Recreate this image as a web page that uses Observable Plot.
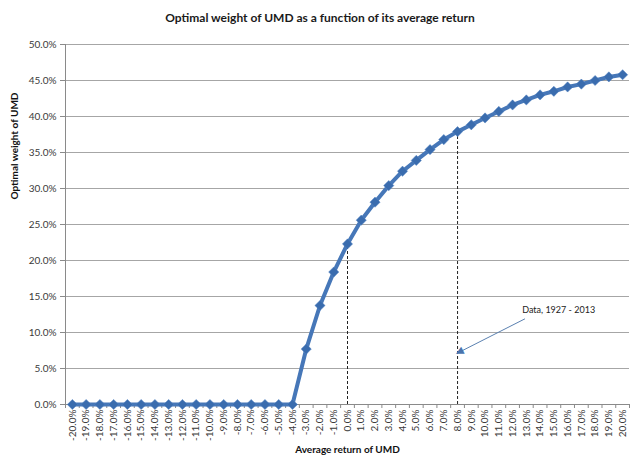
<!DOCTYPE html>
<html><head><meta charset="utf-8">
<script src="https://cdn.jsdelivr.net/npm/d3@7"></script>
<script src="https://cdn.jsdelivr.net/npm/@observablehq/plot@0.6"></script>
<style>
body{margin:0;background:#fff;font-family:Lato,"Open Sans",sans-serif;}
#title{width:640px;height:36px;line-height:36px;text-align:center;font-weight:bold;font-size:12px;color:#1a1a1a;}
</style></head><body>
<div id="title">Optimal weight of UMD as a function of its average return</div>
<div id="chart"></div>
<script>
// Average return of UMD (%), one category per point
const returns = [-20,-19,-18,-17,-16,-15,-14,-13,-12,-11,-10,-9,-8,-7,-6,-5,-4,-3,-2,-1,0,1,2,3,4,5,6,7,8,9,10,11,12,13,14,15,16,17,18,19,20];
// Optimal weight of UMD (%)
const weights = [0,0,0,0,0,0,0,0,0,0,0,0,0,0,0,0,0,7.7,13.75,18.4,22.3,25.6,28.1,30.4,32.4,33.9,35.4,36.8,37.9,38.85,39.8,40.7,41.6,42.3,43.0,43.5,44.1,44.5,45.0,45.5,45.8];
const yTicks = [0,5,10,15,20,25,30,35,40,45,50];
const markedReturns = [0, 8];
const annotationText = "Data, 1927 - 2013";
const annotationPos = {x: 12.7, y: 13.1};
const arrowFrom = {x: 12.9, y: 11.9};
const arrowTo = {x: 7.95, y: 7.1};

const data = returns.map((r, i) => ({r, w: weights[i]}));
const marked = markedReturns.map(r => ({r, w: weights[returns.indexOf(r)]}));
const boundaries = returns.map(r => r - 0.5).concat([returns[returns.length - 1] + 0.5]);
const pct = d => d.toFixed(1) + "%";

const chart = Plot.plot({
  width: 640,
  height: 431,
  marginLeft: 65,
  marginRight: 11,
  marginTop: 8,
  marginBottom: 63,
  style: {fontFamily: "Lato, 'Open Sans', sans-serif", fontSize: "10px", color: "#3a3a3a", background: "#fff"},
  x: {domain: [boundaries[0], boundaries[boundaries.length - 1]]},
  y: {domain: [0, 50]},
  marks: [
    Plot.gridY(yTicks, {stroke: "#a6a6a6", strokeOpacity: 1, strokeWidth: 1}),
    Plot.frame({anchor: "left", stroke: "#8a8a8a"}),
    Plot.ruleY([0], {stroke: "#8a8a8a"}),
    Plot.axisY({ticks: yTicks, tickFormat: pct, tickSize: 5, tickPadding: 4, label: null, stroke: "#8a8a8a", fontSize: 10}),
    Plot.axisX({ticks: returns, tickFormat: pct, tickSize: 0, tickPadding: 5, tickRotate: -90, label: null, fontSize: 10}),
    Plot.axisX({ticks: boundaries, tickFormat: () => "", tickSize: 4, label: null, stroke: "#8a8a8a"}),
    Plot.ruleX(marked, {x: "r", y1: 0, y2: "w", stroke: "#222", strokeWidth: 1, strokeDasharray: "3,2"}),
    Plot.line(data, {x: "r", y: "w", stroke: "#4677b8", strokeWidth: 4}),
    Plot.dot(data, {x: "r", y: "w", symbol: "diamond2", r: 4.6, fill: "#3a6cae", stroke: "#5585c2", strokeWidth: 0.5}),
    Plot.link([{}], {x1: arrowFrom.x, y1: arrowFrom.y, x2: arrowTo.x, y2: arrowTo.y, stroke: "#5a80b0", strokeWidth: 1}),
    Plot.text(["▲"], {x: arrowTo.x, y: arrowTo.y, rotate: 243, fontSize: 10, fill: "#4a74ad", fontFamily: "DejaVu Sans", dx: 2, dy: -1}),
    Plot.text([annotationText], {x: annotationPos.x, y: annotationPos.y, textAnchor: "start", fontSize: 9, fill: "#222"}),
    Plot.text(["Optimal weight of UMD"], {frameAnchor: "left", dx: -51, dy: -25, rotate: -90, fontWeight: "bold", fontSize: 10, fill: "#111"}),
    Plot.text(["Average return of UMD"], {frameAnchor: "bottom", dy: 48, fontWeight: "bold", fontSize: 10, fill: "#111"})
  ]
});
document.getElementById("chart").appendChild(chart);
</script>
</body></html>
